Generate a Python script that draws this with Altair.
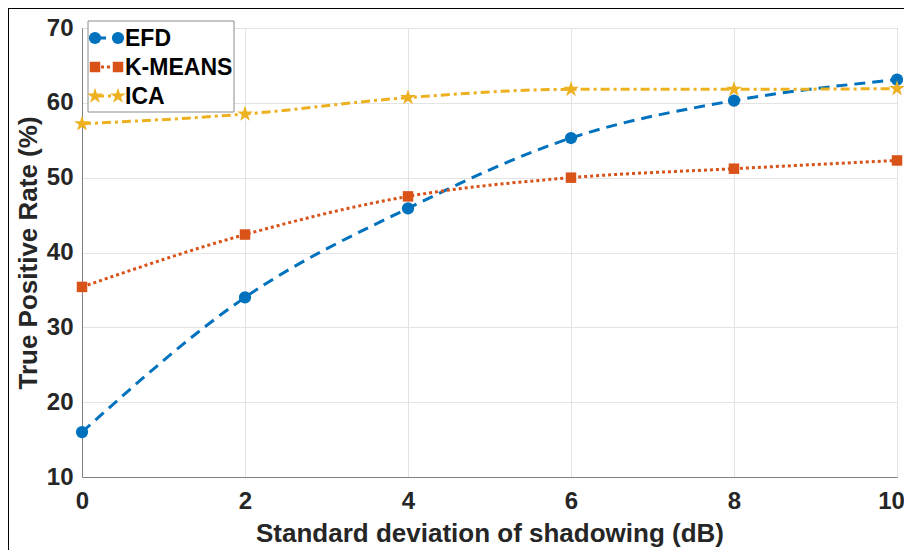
import altair as alt
import pandas as pd

x_vals = [0, 2, 4, 6, 8, 10]
series_names = ["EFD", "K-MEANS", "ICA"]
efd = [16.0, 34.0, 45.9, 55.3, 60.3, 63.1]
kmeans = [35.4, 42.4, 47.5, 50.0, 51.2, 52.3]
ica = [57.2, 58.5, 60.7, 61.8, 61.8, 61.9]
x_ticks = [0, 2, 4, 6, 8, 10]
y_ticks = [10, 20, 30, 40, 50, 60, 70]

colors = ["#0072BD", "#D95319", "#EDB120"]
dashes = [[11, 7], [3, 3], [9, 4, 3, 4]]
STAR = ("M0,-1L0.223,-0.307L0.951,-0.309L0.361,0.117L0.588,0.809L0,0.38"
        "L-0.588,0.809L-0.361,0.117L-0.951,-0.309L-0.223,-0.307Z")
shapes = ["circle", "square", STAR]
sizes = [150, 110, 280]

rows = []
for name, vals in zip(series_names, [efd, kmeans, ica]):
    for xv, yv in zip(x_vals, vals):
        rows.append({"x": xv, "y": yv, "series": name})
df = pd.DataFrame(rows)

FONT = "Liberation Sans"
TXT = "#262626"

xs = alt.Scale(domain=[0, 10], nice=False)
ys = alt.Scale(domain=[10, 70], nice=False)

layers = []
for i, name in enumerate(series_names):
    sub = alt.Chart(df).transform_filter(alt.datum.series == name)
    line = sub.mark_line(
        interpolate="monotone", strokeWidth=3, strokeDash=dashes[i], color=colors[i]
    ).encode(
        x=alt.X("x:Q", scale=xs,
                axis=alt.Axis(values=x_ticks, format="d", labelFlush=False,
                              labelOffset={"condition": {"test": "datum.value == 10", "value": -6},
                                           "value": 0},
                              title="Standard deviation of shadowing (dB)")),
        y=alt.Y("y:Q", scale=ys,
                axis=alt.Axis(values=y_ticks, format="d",
                              title="True Positive Rate (%)")),
    )
    layers.append(line)
for i, name in enumerate(series_names):
    sub = alt.Chart(df).transform_filter(alt.datum.series == name)
    pts = sub.mark_point(
        filled=True, opacity=1, shape=shapes[i], size=sizes[i], color=colors[i]
    ).encode(x=alt.X("x:Q", scale=xs), y=alt.Y("y:Q", scale=ys))
    layers.append(pts)

# legend box
leg_box = alt.Chart(alt.Data(values=[{"a": 1}])).mark_rect(
    fill="white", stroke="#8c8c8c", strokeWidth=1
).encode(x=alt.value(6), x2=alt.value(152), y=alt.value(-7), y2=alt.value(84))
layers.append(leg_box)

for i, name in enumerate(series_names):
    yi = 10 + 29 * i
    ld = alt.Data(values=[{"label": name}])
    rl = alt.Chart(ld).mark_rule(
        color=colors[i], strokeWidth=3, strokeDash=dashes[i]
    ).encode(x=alt.value(13), x2=alt.value(36), y=alt.value(yi))
    layers.append(rl)
    for px in (13, 36):
        p = alt.Chart(ld).mark_point(
            filled=True, opacity=1, shape=shapes[i], size=sizes[i], color=colors[i]
        ).encode(x=alt.value(px), y=alt.value(yi))
        layers.append(p)
    t = alt.Chart(ld).mark_text(
        align="left", baseline="middle", font=FONT, fontWeight="bold",
        fontSize=23, color="#000000"
    ).encode(x=alt.value(43), y=alt.value(yi + 1), text="label:N")
    layers.append(t)

# outer frame (top and left edges of figure border)
fd = alt.Data(values=[{"a": 1}])
layers.append(alt.Chart(fd).mark_rule(color="#000000", strokeWidth=2).encode(
    x=alt.value(-74), x2=alt.value(830), y=alt.value(-20)))
layers.append(alt.Chart(fd).mark_rule(color="#000000", strokeWidth=2).encode(
    x=alt.value(-74), y=alt.value(-20), y2=alt.value(530)))

chart = alt.layer(*layers).properties(
    width=815, height=449,
    autosize=alt.AutoSizeParams(type="none"),
    padding={"left": 74, "top": 20, "right": 7, "bottom": 73},
    background="white",
).configure_view(
    stroke="#808080", strokeWidth=1
).configure_axis(
    labelFont=FONT, labelFontWeight="bold", labelFontSize=24, labelColor=TXT,
    titleFont=FONT, titleFontWeight="bold", titleFontSize=26, titleColor=TXT,
    grid=True, gridColor="#e3e3e3", gridWidth=1,
    domainColor="#808080", ticks=False, labelPadding=9,
).configure_axisX(
    labelPadding=12, titlePadding=7
).configure_axisY(
    titlePadding=5
)

chart.save("out.html", embed_options={"renderer": "svg", "actions": False})
